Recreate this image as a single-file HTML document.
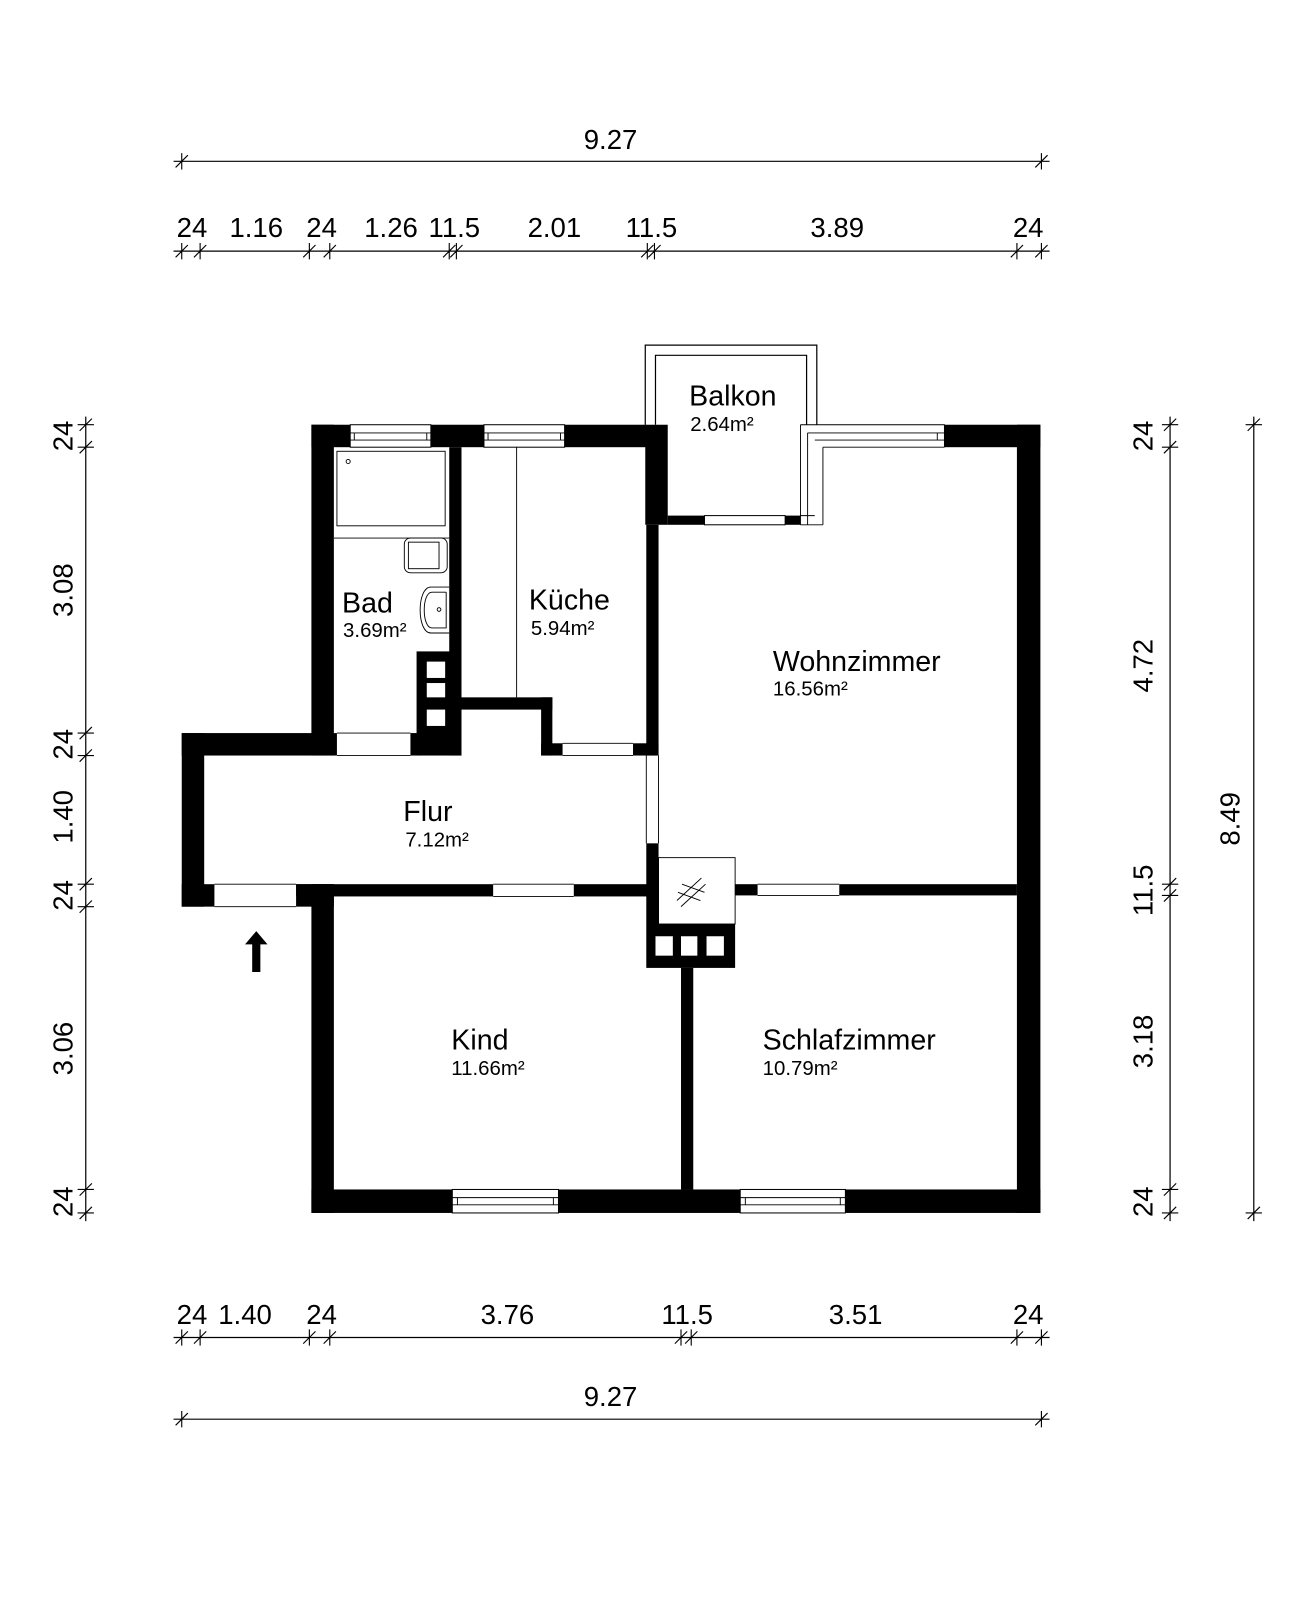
<!DOCTYPE html>
<html><head><meta charset="utf-8"><style>html,body{margin:0;padding:0;background:#fff}svg{display:block}</style></head><body>
<svg width="1290" height="1599" viewBox="0 0 1290 1599" xmlns="http://www.w3.org/2000/svg" font-family="Liberation Sans, sans-serif">
<g transform="scale(1.021)">
<g stroke="#000" stroke-width="1.2" fill="none">
<line x1="170" y1="158" x2="1028" y2="158"/>
<line x1="170" y1="246" x2="1028" y2="246"/>
<line x1="170" y1="1310" x2="1028" y2="1310"/>
<line x1="170" y1="1390" x2="1028" y2="1390"/>
<line x1="84" y1="408" x2="84" y2="1196"/>
<line x1="1146" y1="408" x2="1146" y2="1196"/>
<line x1="1228" y1="408" x2="1228" y2="1196"/>
</g>
<g stroke="#000" stroke-width="1.1">
<path d="M178 150v16M172 164l12-12 M1020 150v16M1014 164l12-12"/>
<path d="M178 1382v16M172 1396l12-12 M1020 1382v16M1014 1396l12-12"/>
<path d="M178 238v16M172 252l12-12 M196 238v16M190 252l12-12 M303 238v16M297 252l12-12 M323 238v16M317 252l12-12 M440 238v16M434 252l12-12 M447 238v16M441 252l12-12 M634 238v16M628 252l12-12 M641 238v16M635 252l12-12 M996 238v16M990 252l12-12 M1020 238v16M1014 252l12-12"/>
<path d="M178 1302v16M172 1316l12-12 M196 1302v16M190 1316l12-12 M303 1302v16M297 1316l12-12 M323 1302v16M317 1316l12-12 M667 1302v16M661 1316l12-12 M677 1302v16M671 1316l12-12 M996 1302v16M990 1316l12-12 M1020 1302v16M1014 1316l12-12"/>
<path d="M76 416h16M78 422l12-12 M76 438h16M78 444l12-12 M76 718h16M78 724l12-12 M76 740h16M78 746l12-12 M76 866h16M78 872l12-12 M76 888h16M78 894l12-12 M76 1165h16M78 1171l12-12 M76 1188h16M78 1194l12-12"/>
<path d="M1138 416h16M1140 422l12-12 M1138 438h16M1140 444l12-12 M1138 866h16M1140 872l12-12 M1138 877h16M1140 883l12-12 M1138 1165h16M1140 1171l12-12 M1138 1188h16M1140 1194l12-12"/>
<path d="M1220 416h16M1222 422l12-12 M1220 1188h16M1222 1194l12-12"/>
</g>
<g font-size="27" text-anchor="middle" fill="#000">
<text x="598" y="146">9.27</text>
<text x="598" y="1377">9.27</text>
<text x="188" y="232">24</text><text x="251" y="232">1.16</text><text x="315" y="232">24</text><text x="383" y="232">1.26</text><text x="445" y="232">11.5</text><text x="543" y="232">2.01</text><text x="638" y="232">11.5</text><text x="820" y="232">3.89</text><text x="1007" y="232">24</text>
<text x="188" y="1297">24</text><text x="240" y="1297">1.40</text><text x="315" y="1297">24</text><text x="497" y="1297">3.76</text><text x="673" y="1297">11.5</text><text x="838" y="1297">3.51</text><text x="1007" y="1297">24</text>
<g transform="translate(71 0)">
<text transform="translate(0 427) rotate(-90)">24</text>
<text transform="translate(0 578) rotate(-90)">3.08</text>
<text transform="translate(0 729) rotate(-90)">24</text>
<text transform="translate(0 800) rotate(-90)">1.40</text>
<text transform="translate(0 877) rotate(-90)">24</text>
<text transform="translate(0 1027) rotate(-90)">3.06</text>
<text transform="translate(0 1177) rotate(-90)">24</text>
</g>
<g transform="translate(1129 0)">
<text transform="translate(0 427) rotate(-90)">24</text>
<text transform="translate(0 652) rotate(-90)">4.72</text>
<text transform="translate(0 872) rotate(-90)">11.5</text>
<text transform="translate(0 1020) rotate(-90)">3.18</text>
<text transform="translate(0 1177) rotate(-90)">24</text>
</g>
<text transform="translate(1214 802) rotate(-90)">8.49</text>
</g>

<g fill="none" stroke="#000" stroke-width="1.2">
<path d="M632 416V338H800V416"/>
<path d="M642 416V348H790V416"/>
</g>
<g fill="#000">
<rect x="305" y="416" width="38" height="22"/>
<rect x="422" y="416" width="52" height="22"/>
<rect x="553" y="416" width="80" height="22"/>
<rect x="632" y="416" width="22" height="98"/>
<rect x="654" y="505" width="36" height="9"/>
<rect x="769" y="505" width="15" height="9"/>
<rect x="925" y="416" width="94" height="22"/>
<rect x="996" y="416" width="23" height="772"/>
<rect x="305" y="1165" width="138" height="23"/>
<rect x="547" y="1165" width="178" height="23"/>
<rect x="828" y="1165" width="191" height="23"/>
<rect x="305" y="416" width="22" height="324"/>
<rect x="440" y="438" width="12" height="302"/>
<rect x="178" y="718" width="152" height="22"/>
<rect x="402" y="718" width="10" height="22"/>
<rect x="408" y="638" width="44" height="102"/>
<rect x="452" y="683" width="89" height="12"/>
<rect x="530" y="683" width="11" height="57"/>
<rect x="530" y="728" width="21" height="12"/>
<rect x="620" y="728" width="25" height="12"/>
<rect x="633" y="514" width="12" height="226"/>
<rect x="633" y="826" width="12" height="79"/>
<rect x="178" y="718" width="22" height="170"/>
<rect x="178" y="866" width="32" height="22"/>
<rect x="290" y="866" width="37" height="22"/>
<rect x="290" y="866" width="193" height="12"/>
<rect x="562" y="866" width="83" height="12"/>
<rect x="720" y="866" width="22" height="11"/>
<rect x="822" y="866" width="174" height="11"/>
<rect x="305" y="866" width="22" height="322"/>
<rect x="633" y="905" width="87" height="43"/>
<rect x="667" y="948" width="12" height="217"/>
</g>
<g fill="#fff">
<rect x="418" y="648" width="18" height="16"/>
<rect x="418" y="669" width="18" height="14"/>
<rect x="418" y="695" width="18" height="16"/>
<rect x="642" y="917" width="17" height="19"/>
<rect x="667" y="917" width="16" height="19"/>
<rect x="692" y="917" width="17" height="19"/>
</g>
<g fill="#fff" stroke="#000" stroke-width="1">
<rect x="343" y="416" width="79" height="22"/>
<rect x="474" y="416" width="79" height="22"/>
<rect x="443" y="1165" width="104" height="23"/>
<rect x="725" y="1165" width="103" height="23"/>
<rect x="690" y="505" width="79" height="9"/>
</g>
<g fill="none" stroke="#000" stroke-width="0.9">
<path d="M343 424h79M343 431h79M347 424v7M418 424v7"/>
<path d="M474 424h79M474 431h79M478 424v7M549 424v7"/>
<path d="M443 1173h104M443 1180h104M448 1173v7M542 1173v7"/>
<path d="M725 1173h103M725 1180h103M730 1173v7M823 1173v7"/>
<path d="M784 416H925V438M784 416V514M791 424H925M791 424V514M798 431H925M806 438H925M806 438V514M784 514H806M784 505H798"/>
<path d="M918 424v7"/>
<path d="M330 718h72M330 740h72"/>
<path d="M551 728h69M551 740h69"/>
<path d="M633 740v86M645 740v86"/>
<path d="M483 866h79M483 878h79"/>
<path d="M742 866h80M742 877h80"/>
<path d="M210 866h80M210 888h80"/>
<rect x="645" y="840" width="75" height="65"/>
<path d="M663 882l24-22M667 888l24-22M668 866l22 8M664 874l22 8"/>
<path d="M506 438V683"/>
<rect x="330" y="442" width="106" height="73"/>
<path d="M327 527H440"/>
<rect x="396" y="527" width="42" height="34" rx="6"/>
<rect x="400" y="531" width="30" height="26"/>
<path d="M440 575H422C408 575 408 620 422 620H440"/>
<path d="M437 580H423C413 580 413 615 423 615H437V580"/>
<circle cx="341" cy="452" r="2"/>
<circle cx="430" cy="597" r="1.8"/>
</g>
<path d="M251 912L240 925H247V952H255V925H262Z" fill="#000"/>
<g fill="#000">
<text x="675" y="397" font-size="28">Balkon</text><text x="676" y="422" font-size="20">2.64m²</text>
<text x="335" y="600" font-size="28">Bad</text><text x="336" y="624" font-size="20">3.69m²</text>
<text x="518" y="597" font-size="28">Küche</text><text x="520" y="622" font-size="20">5.94m²</text>
<text x="757" y="657" font-size="28">Wohnzimmer</text><text x="757" y="681" font-size="20">16.56m²</text>
<text x="395" y="804" font-size="28">Flur</text><text x="397" y="829" font-size="20">7.12m²</text>
<text x="442" y="1028" font-size="28">Kind</text><text x="442" y="1053" font-size="20">11.66m²</text>
<text x="747" y="1028" font-size="28">Schlafzimmer</text><text x="747" y="1053" font-size="20">10.79m²</text>
</g>
</g>
</svg>
</body></html>
